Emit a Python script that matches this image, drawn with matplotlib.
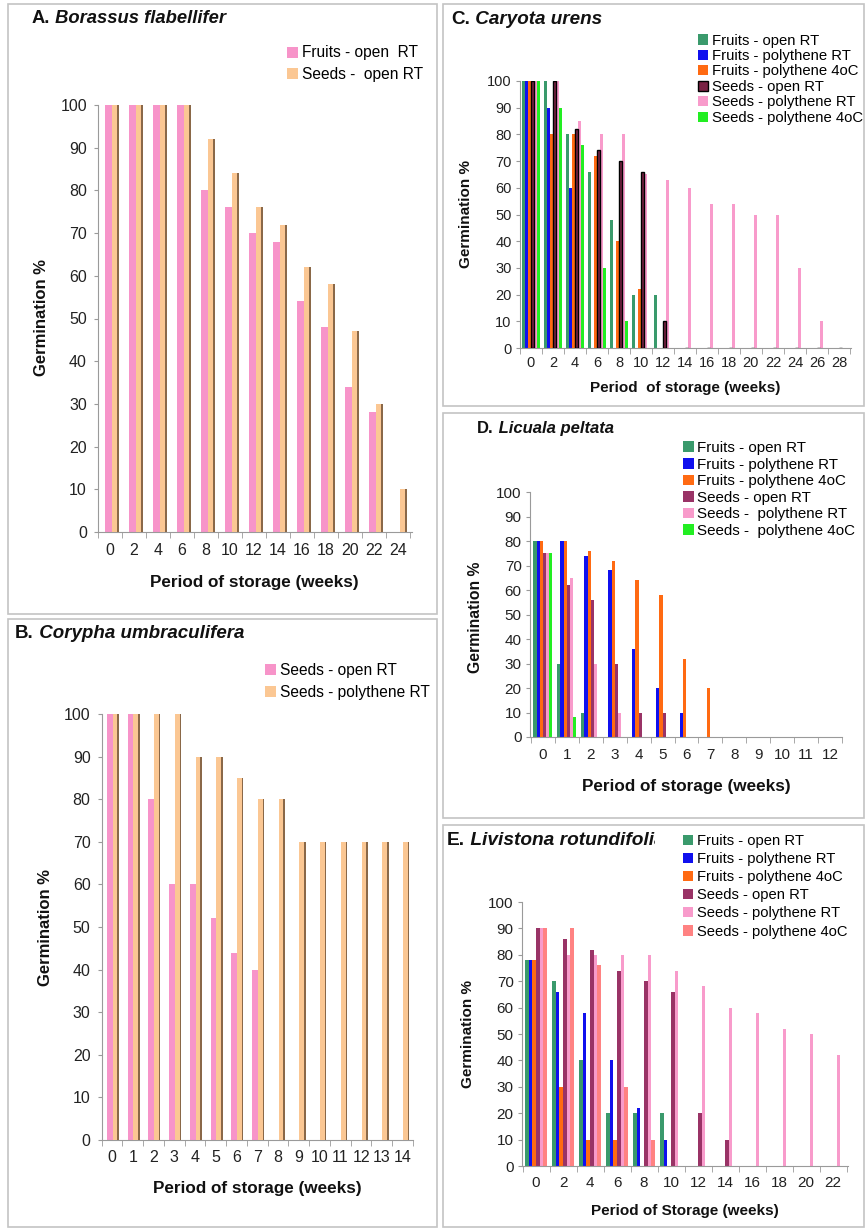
import numpy as np
import matplotlib
matplotlib.use('Agg')
import matplotlib.pyplot as plt
from matplotlib.patches import Rectangle
from matplotlib.transforms import Bbox, TransformedBbox

plt.rcParams['font.family'] = ['Liberation Sans', 'DejaVu Sans']

W, H = 865, 1228

# ---- data ----
weeks_a = [0, 2, 4, 6, 8, 10, 12, 14, 16, 18, 20, 22, 24]
a_fruits_open = [100, 100, 100, 100, 80, 76, 70, 68, 54, 48, 34, 28, 0]
a_seeds_open = [100, 100, 100, 100, 92, 84, 76, 72, 62, 58, 47, 30, 10]

weeks_b = [0, 1, 2, 3, 4, 5, 6, 7, 8, 9, 10, 11, 12, 13, 14]
b_seeds_open = [100, 100, 80, 60, 60, 52, 44, 40, 0, 0, 0, 0, 0, 0, 0]
b_seeds_poly = [100, 100, 100, 100, 90, 90, 85, 80, 80, 70, 70, 70, 70, 70, 70]

weeks_c = [0, 2, 4, 6, 8, 10, 12, 14, 16, 18, 20, 22, 24, 26, 28]
c_fruits_open = [100, 100, 80, 66, 48, 20, 20, 0, 0, 0, 0, 0, 0, 0, 0]
c_fruits_poly = [100, 90, 60, 0, 0, 0, 0, 0, 0, 0, 0, 0, 0, 0, 0]
c_fruits_4c = [100, 80, 80, 72, 40, 22, 0, 0, 0, 0, 0, 0, 0, 0, 0]
c_seeds_open = [100, 100, 82, 74, 70, 66, 10, 0, 0, 0, 0, 0, 0, 0, 0]
c_seeds_poly = [100, 100, 85, 80, 80, 65, 63, 60, 54, 54, 50, 50, 30, 10, 0]
c_seeds_4c = [100, 90, 76, 30, 10, 0, 0, 0, 0, 0, 0, 0, 0, 0, 0]

weeks_d = [0, 1, 2, 3, 4, 5, 6, 7, 8, 9, 10, 11, 12]
d_fruits_open = [80, 30, 10, 0, 0, 0, 0, 0, 0, 0, 0, 0, 0]
d_fruits_poly = [80, 80, 74, 68, 36, 20, 10, 0, 0, 0, 0, 0, 0]
d_fruits_4c = [80, 80, 76, 72, 64, 58, 32, 20, 0, 0, 0, 0, 0]
d_seeds_open = [75, 62, 56, 30, 10, 10, 0, 0, 0, 0, 0, 0, 0]
d_seeds_poly = [75, 65, 30, 10, 0, 0, 0, 0, 0, 0, 0, 0, 0]
d_seeds_4c = [75, 8, 0, 0, 0, 0, 0, 0, 0, 0, 0, 0, 0]

weeks_e = [0, 2, 4, 6, 8, 10, 12, 14, 16, 18, 20, 22]
e_fruits_open = [78, 70, 40, 20, 20, 20, 0, 0, 0, 0, 0, 0]
e_fruits_poly = [78, 66, 58, 40, 22, 10, 0, 0, 0, 0, 0, 0]
e_fruits_4c = [78, 30, 10, 10, 0, 0, 0, 0, 0, 0, 0, 0]
e_seeds_open = [90, 86, 82, 74, 70, 66, 20, 10, 0, 0, 0, 0]
e_seeds_poly = [90, 80, 80, 80, 80, 74, 68, 60, 58, 52, 50, 42]
e_seeds_4c = [90, 90, 76, 30, 10, 0, 0, 0, 0, 0, 0, 0]

labels_six = ['Fruits - open RT', 'Fruits - polythene RT', 'Fruits - polythene 4oC',
              'Seeds - open RT', 'Seeds - polythene RT', 'Seeds - polythene 4oC']
labels_d = ['Fruits - open RT', 'Fruits - polythene RT', 'Fruits - polythene 4oC',
            'Seeds - open RT', 'Seeds -  polythene RT', 'Seeds -  polythene 4oC']

PINK = '#f794c9'
PEACH = '#fbc793'
STRIP = '#8a6848'
TEAL = '#3a9a6c'
BLUE = '#1010ee'
ORANGE = '#ff6a12'
MAROON = '#993366'
LPINK = '#f89bcb'
GREEN = '#22ee22'
SALMON = '#ff8282'
GREY = '#9a9a9a'

fig = plt.figure(figsize=(W / 100, H / 100), dpi=100)


def px_axes(left, top, right, bottom):
    return fig.add_axes([left / W, 1 - bottom / H, (right - left) / W, (bottom - top) / H])


def style(ax, n, xlim, tsize, xpad, ypad):
    ax.set_xlim(*xlim)
    ax.set_ylim(0, 100)
    ax.set_yticks(range(0, 101, 10))
    for s in ['top', 'right']:
        ax.spines[s].set_visible(False)
    for s in ['left', 'bottom']:
        ax.spines[s].set_color(GREY)
    ax.set_xticks(np.arange(n))
    ax.set_xticks(np.arange(n + 1) - 0.5, minor=True)
    ax.tick_params(axis='x', which='major', length=0, labelsize=tsize, pad=xpad, colors='#222222')
    ax.tick_params(axis='x', which='minor', length=4, color=GREY)
    ax.tick_params(axis='y', length=3, color=GREY, labelsize=tsize, pad=ypad, labelcolor='#222222')


def panel_title(ax, x, y, letter, species, size=13, clip_x=None):
    t = ax.text(x / W, 1 - y / H, letter, transform=fig.transFigure, fontsize=size,
                fontweight='bold', va='bottom', color='#111111')
    s = ax.annotate(' ' + species, xy=(1, 0), xycoords=t, fontsize=size, fontweight='bold',
                    style='italic', va='bottom', color='#111111')
    if clip_x is not None:
        s.set_clip_on(True)
        s.set_clip_box(TransformedBbox(Bbox([[0, 0], [clip_x / W, 1]]), fig.transFigure))


def axis_labels(xl, xsize, yc_x, yc_y, ysize, xl_center, xl_y):
    fig.text(xl_center / W, 1 - xl_y / H, xl, ha='center', va='center',
             fontsize=xsize, fontweight='bold', color='#111111')
    fig.text(yc_x / W, 1 - yc_y / H, 'Germination %', ha='center', va='center',
             rotation=90, fontsize=ysize, fontweight='bold', color='#111111')


def legend(ax, handles, labels, x, y, size, spacing, frame=False):
    leg = ax.legend(handles, labels, loc='upper left', bbox_to_anchor=(x / W, 1 - y / H),
                    bbox_transform=fig.transFigure, frameon=frame, fontsize=size,
                    handlelength=0.7, handleheight=0.7, handletextpad=0.25,
                    labelspacing=spacing, borderpad=0, borderaxespad=0, fancybox=False)
    if frame:
        leg.get_frame().set_facecolor('white')
        leg.get_frame().set_edgecolor('none')
        leg.get_frame().set_alpha(1)
    return leg


def panel_box(l, t, r, b):
    fig.add_artist(Rectangle((l / W, 1 - b / H), (r - l) / W, (b - t) / H, transform=fig.transFigure,
                             fill=False, edgecolor='#c4c4c4', lw=1.2))


panel_box(8, 4, 437, 614)
panel_box(8, 619, 437, 1227)
panel_box(443, 4, 864, 406)
panel_box(443, 413, 864, 818)
panel_box(443, 825, 864, 1227)

# ---- A ----
ax = px_axes(98, 105, 412, 532)
xa = np.arange(len(weeks_a))
bw = 0.29
b1 = ax.bar(xa - 0.07, a_fruits_open, bw, color=PINK, zorder=2)
b2 = ax.bar(xa + 0.22, a_seeds_open, bw, color=PEACH, zorder=3)
ax.bar(xa + 0.22 + bw / 2 - 0.04, a_seeds_open, 0.08, color=STRIP, zorder=4)
style(ax, len(weeks_a), (-0.5, 12.58), 11.5, 8, 5)
ax.set_xticklabels(weeks_a)
panel_title(ax, 32, 27, 'A.', 'Borassus flabellifer', 13.2)
legend(ax, [b1, b2], ['Fruits - open  RT', 'Seeds -  open RT'], 287, 45.5, 11.2, 0.44)
axis_labels('Period of storage (weeks)', 12.3, 42, 318, 12, 254, 582)

# ---- B ----
ax = px_axes(101.7, 714, 413, 1140)
xb = np.arange(len(weeks_b))
bw = 0.3
b1 = ax.bar(xb - 0.1, b_seeds_open, bw, color=PINK, zorder=2)
b2 = ax.bar(xb + 0.18, b_seeds_poly, bw, color=PEACH, zorder=3)
ax.bar(xb + 0.18 + bw / 2 - 0.04, b_seeds_poly, 0.08, color=STRIP, zorder=4)
style(ax, len(weeks_b), (-0.44, 14.43), 11.5, 7, 5)
ax.set_xticklabels(weeks_b)
panel_title(ax, 15, 642, 'B.', 'Corypha umbraculifera', 13.5)
legend(ax, [b1, b2], ['Seeds - open RT', 'Seeds - polythene RT'], 265, 662.5, 11.2, 0.5)
axis_labels('Period of storage (weeks)', 12.3, 46, 927, 12, 257, 1189)


def six_bars(ax, x, series, colors, group, black_idx=None):
    n = len(series)
    w = group / n
    out = []
    for i, (vals, c) in enumerate(zip(series, colors)):
        if i == black_idx:
            b = ax.bar(x + (i - (n - 1) / 2) * w, vals, w, color=c, edgecolor='black', lw=1.0, zorder=3)
        else:
            b = ax.bar(x + (i - (n - 1) / 2) * w, vals, w, color=c, lw=0, zorder=2)
        out.append(b)
    return out


# ---- C ----
ax = px_axes(520, 81, 851, 348)
xc = np.arange(len(weeks_c))
hs = six_bars(ax, xc, [c_fruits_open, c_fruits_poly, c_fruits_4c, c_seeds_open, c_seeds_poly, c_seeds_4c],
              [TEAL, BLUE, ORANGE, '#7a2244', LPINK, GREEN], 0.82, black_idx=3)
style(ax, len(weeks_c), (-0.5, 14.55), 10.5, 6, 3)
ax.set_xticklabels(weeks_c)
panel_title(ax, 451, 28, 'C.', 'Caryota urens', 13.6)
legend(ax, hs, labels_six, 698, 33.5, 10.7, 0.1)
axis_labels('Period  of storage (weeks)', 11, 466, 214, 11, 685, 388)

# ---- D ----
ax = px_axes(530, 492, 842, 737)
xd = np.arange(len(weeks_d))
hs = six_bars(ax, xd, [d_fruits_open, d_fruits_poly, d_fruits_4c, d_seeds_open, d_seeds_poly, d_seeds_4c],
              [TEAL, BLUE, ORANGE, MAROON, LPINK, GREEN], 0.8)
style(ax, len(weeks_d), (-0.54, 12.5), 11, 8, 3)
ax.set_xticklabels(weeks_d)
panel_title(ax, 477, 436, 'D.', 'Licuala peltata', 12)
legend(ax, hs, labels_d, 683, 441, 10.9, 0.17)
axis_labels('Period of storage (weeks)', 12.3, 476, 617, 11.3, 686, 787)

# ---- E ----
ax = px_axes(522, 902, 848, 1166)
xe = np.arange(len(weeks_e))
hs = six_bars(ax, xe, [e_fruits_open, e_fruits_poly, e_fruits_4c, e_seeds_open, e_seeds_poly, e_seeds_4c],
              [TEAL, BLUE, ORANGE, MAROON, LPINK, SALMON], 0.81)
style(ax, len(weeks_e), (-0.52, 11.55), 11, 7, 3)
ax.set_xticklabels(weeks_e)
panel_title(ax, 447, 849, 'E.', 'Livistona rotundifolia', 13.8, clip_x=655)
legend(ax, hs, labels_six, 683, 834, 10.6, 0.28, frame=True)
axis_labels('Period of Storage (weeks)', 11, 468, 1034, 11, 685, 1211)

fig.savefig('out.png', dpi=100)
